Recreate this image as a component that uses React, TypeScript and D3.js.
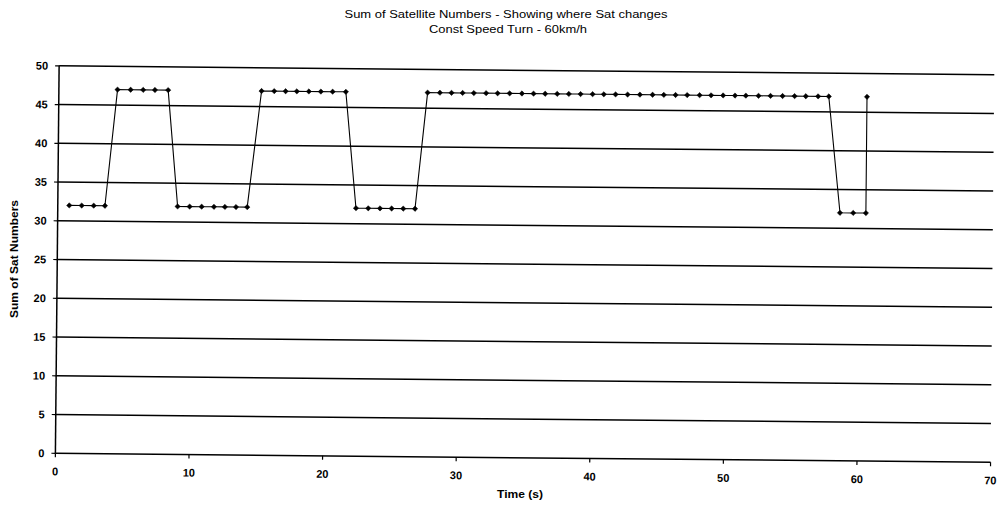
import React from "react";
import * as d3 from "d3";

const titleLines = ["Sum of Satellite Numbers - Showing where Sat changes", "Const Speed Turn - 60km/h"];
const xAxisTitle = "Time (s)";
const yAxisTitle = "Sum of Sat Numbers";

const xTicks = [0, 10, 20, 30, 40, 50, 60, 70];
const yTicks = [0, 5, 10, 15, 20, 25, 30, 35, 40, 45, 50];

const times = [
  0.86, 1.79, 2.69, 3.53,
  4.39, 5.37, 6.31, 7.19, 8.18,
  8.97, 9.87, 10.77, 11.69, 12.51, 13.34, 14.18,
  15.17, 16.12, 16.97, 17.81, 18.71, 19.61, 20.49, 21.48,
  22.32, 23.24, 24.12, 24.99, 25.86, 26.74,
  27.6, 28.52, 29.39, 30.22, 31.06, 31.98, 32.84, 33.74, 34.66, 35.53,
  36.4, 37.3, 38.17, 39.05, 39.95, 40.79, 41.67, 42.57, 43.49, 44.44,
  45.28, 46.16, 47.03, 47.96, 48.82, 49.72, 50.61, 51.42, 52.37, 53.27,
  54.17, 55.07, 55.91, 56.83, 57.63,
  58.55, 59.54, 60.49,
  60.49,
];
const satSums = [
  32, 32, 32, 32,
  47, 47, 47, 47, 47,
  32, 32, 32, 32, 32, 32, 32,
  47, 47, 47, 47, 47, 47, 47, 47,
  32, 32, 32, 32, 32, 32,
  47, 47, 47, 47, 47, 47, 47, 47, 47, 47,
  47, 47, 47, 47, 47, 47, 47, 47, 47, 47,
  47, 47, 47, 47, 47, 47, 47, 47, 47, 47,
  47, 47, 47, 47, 47,
  32, 32, 32,
  47,
];

const W = 999;
const H = 508;
const FONT = "Arial, 'Liberation Sans', Helvetica, sans-serif";

export default function App() {
  const x = d3.scaleLinear().domain([0, 70]).range([55.4, 990.6]);
  const y = d3.scaleLinear().domain([0, 50]).range([453.3, 65.8]);
  const pts = times.map((t, i) => [t, satSums[i]] as [number, number]);
  const line = d3
    .line<[number, number]>()
    .x((d) => x(d[0]))
    .y((d) => y(d[1]))(pts) as string;
  const marker = d3.symbol().type(d3.symbolSquare).size(14)() as string;
  const ox = x(0);
  const oy = y(0);

  return (
    <svg
      width={W}
      height={H}
      viewBox={`0 0 ${W} ${H}`}
      style={{ position: "absolute", left: 0, top: 0, background: "#fff" }}
    >
      <rect x={0} y={0} width={W} height={H} fill="#fff" />
      <g fontFamily={FONT} fill="#000">
        <text x={506} y={18} fontSize={10.5} textAnchor="middle" textLength={323} lengthAdjust="spacingAndGlyphs">
          {titleLines[0]}
        </text>
        <text x={508} y={33} fontSize={10.5} textAnchor="middle" textLength={158} lengthAdjust="spacingAndGlyphs">
          {titleLines[1]}
        </text>
        <text x={520} y={498} fontSize={10} fontWeight="bold" textAnchor="middle" textLength={46} lengthAdjust="spacingAndGlyphs">
          {xAxisTitle}
        </text>
        <text
          transform={`translate(18,259) rotate(-90)`}
          fontSize={10}
          fontWeight="bold"
          textAnchor="middle"
          textLength={118}
          lengthAdjust="spacingAndGlyphs"
        >
          {yAxisTitle}
        </text>
      </g>
      <g transform={`rotate(0.55, ${ox}, ${oy})`}>
        {yTicks
          .filter((v) => v > 0)
          .map((v) => (
            <line key={"g" + v} x1={x(0)} x2={x(70)} y1={y(v)} y2={y(v)} stroke="#000" strokeWidth={1.5} />
          ))}
        <line x1={ox} x2={ox} y1={y(0)} y2={y(50)} stroke="#000" strokeWidth={1.5} />
        <line x1={x(0)} x2={x(70)} y1={oy} y2={oy} stroke="#000" strokeWidth={1.5} />
        {yTicks.map((v) => (
          <g key={"yt" + v}>
            <line x1={ox - 4} x2={ox} y1={y(v)} y2={y(v)} stroke="#000" strokeWidth={1.2} />
            <text
              x={ox - 11}
              y={y(v)}
              dy="0.35em"
              textAnchor="end"
              fontFamily={FONT}
              fontSize={11}
              fontWeight="bold"
              fill="#000"
            >
              {v}
            </text>
          </g>
        ))}
        {xTicks.map((v) => (
          <g key={"xt" + v}>
            <line x1={x(v)} x2={x(v)} y1={oy} y2={oy + 4} stroke="#000" strokeWidth={1.2} />
            <text
              x={x(v)}
              y={oy + 22}
              textAnchor="middle"
              fontFamily={FONT}
              fontSize={11}
              fontWeight="bold"
              fill="#000"
            >
              {v}
            </text>
          </g>
        ))}
        <path d={line} fill="none" stroke="#000" strokeWidth={1.1} />
        {pts.map((d, i) => (
          <path
            key={"m" + i}
            d={marker}
            transform={`translate(${x(d[0])},${y(d[1])}) rotate(45)`}
            fill="#000"
            stroke="#000"
            strokeWidth={0.5}
          />
        ))}
      </g>
    </svg>
  );
}
